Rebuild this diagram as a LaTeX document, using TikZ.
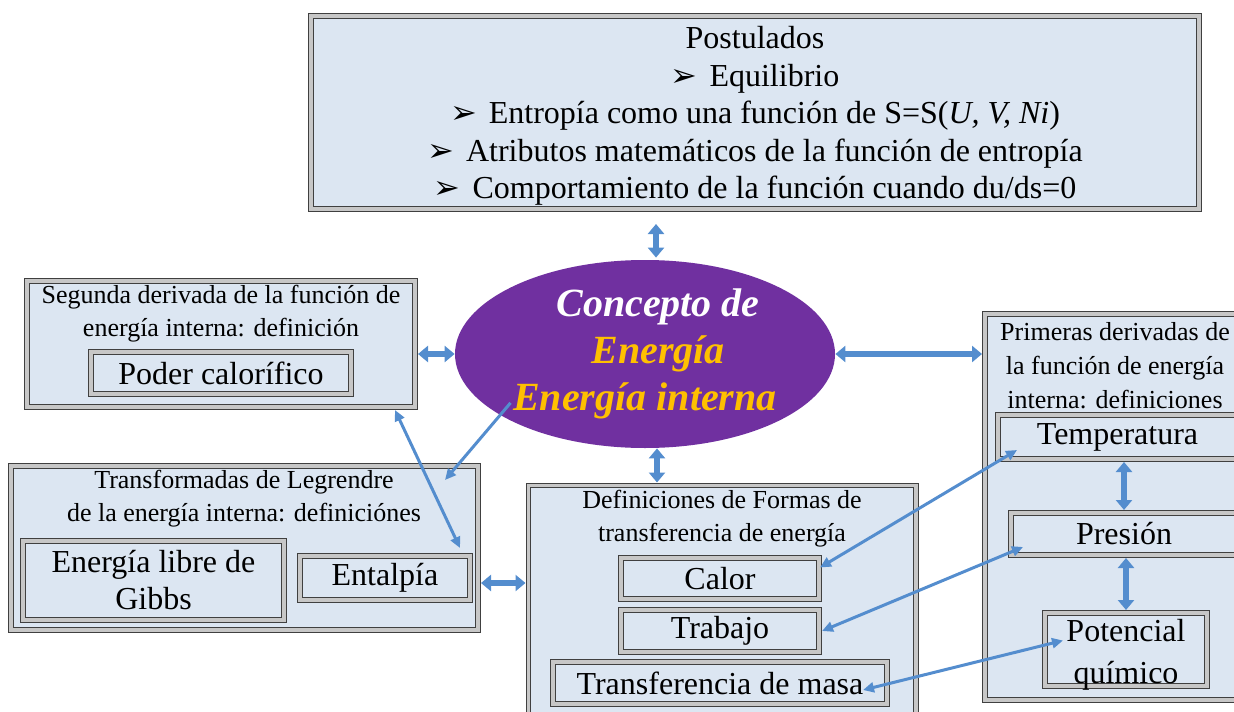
\documentclass[tikz,border=0pt]{standalone}
\usepackage{fontspec}
\setmainfont{Liberation Serif}
\newfontfamily\symfont{DejaVu Sans}
\usetikzlibrary{arrows.meta,positioning,shapes.geometric}
\definecolor{boxblue}{RGB}{220,230,242}
\definecolor{arrowblue}{RGB}{84,141,206}
\definecolor{ovalpurple}{RGB}{112,48,160}
\definecolor{gold}{RGB}{255,192,0}
\newcommand{\postbullet}{{\symfont\fontsize{16}{16}\selectfont ➢}\hspace{6pt}}

\begin{document}
\begin{tikzpicture}
[x=0.5pt,y=-0.5pt,
outerbox/.style={draw=black!75,double=black!22,double distance=1.8pt,line width=0.5pt,fill=boxblue,inner sep=0pt,outer sep=1.4pt},
innerbox/.style={outerbox,align=center,font=\fontsize{16}{18.5}\selectfont},
boxtitle/.style={align=center,font=\fontsize{13}{16.5}\selectfont},
blockarrow/.style={{Triangle[width=8pt,length=5pt]}-{Triangle[width=8pt,length=5pt]},arrowblue,line width=3.3pt},
thinarrow/.style={-{Triangle[width=5pt,length=5.5pt]},arrowblue,line width=1.5pt},
thinboth/.style={thinarrow,{Triangle[width=5pt,length=5.5pt]}-{Triangle[width=5pt,length=5.5pt]}}]

\useasboundingbox (0,0) rectangle (1234,711);

% Postulados
\node[outerbox,minimum width=444.2pt,minimum height=96.7pt] (post) at (755,112.5) {};
\node[align=center,font=\fontsize{16}{18.8}\selectfont] (posttext) at (755,116)
{Postulados\\
\postbullet Equilibrio\\
\postbullet Entropía como una función de S=S(\textit{U, V, Ni})\\
\postbullet Atributos matemáticos de la función de entropía\\
\postbullet Comportamiento de la función cuando du/ds=0};

% Concepto
\node[ellipse,fill=ovalpurple,minimum width=190pt,minimum height=94pt] (ctr) at (645,354) {};
\node[align=center,font=\fontsize{20}{23.5}\selectfont\bfseries\itshape] (ctrtext) at (ctr)
{\hspace*{13pt}\textcolor{white}{Concepto de}\\ \hspace*{13pt}\textcolor{gold}{Energía}\\ \textcolor{gold}{Energía interna}};

% Segunda derivada
\node[outerbox,minimum width=194.2pt,minimum height=63.2pt] (seg) at (221,344) {};
\node[boxtitle] (segtitle) at (221,314) {Segunda derivada de la función de\\energía interna: definición};
\node[innerbox,minimum width=130.2pt,minimum height=21.2pt] (poder) at (221,373) {Poder calorífico};

% Legendre
\node[outerbox,minimum width=233.7pt,minimum height=82.2pt] (leg) at (244.5,548) {};
\node[boxtitle] (legtitle) at (244,499) {Transformadas de Legrendre\\de la energía interna: definiciónes};
\node[innerbox,minimum width=130.7pt,minimum height=39.7pt] (gibbs) at (153.5,580.5) {Energía libre de\\Gibbs};
\node[innerbox,minimum width=85.2pt,minimum height=22.2pt] (ental) at (385,578) {Entalpía};

% Definiciones
\node[outerbox,minimum width=193.7pt,minimum height=126.2pt] (defs) at (722,611.5) {};
\node[boxtitle] (defstitle) at (722,519) {Definiciones de Formas de\\transferencia de energía};
\node[innerbox,minimum width=99.2pt,minimum height=20.7pt] (calor) at (720,578.5) {Calor};
\node[innerbox,minimum width=99.2pt,minimum height=21.2pt] (trab) at (720,631) {Trabajo};
\node[innerbox,minimum width=167.2pt,minimum height=21.2pt] (masa) at (720,683) {Transferencia de masa};

% Primeras derivadas
\node[outerbox,minimum width=131.2pt,minimum height=193.2pt] (prim) at (1116,507) {};
\node[boxtitle,font=\fontsize{13}{17}\selectfont] (primtitle) at (1115,366) {Primeras derivadas de\\la función de energía\\interna: definiciones};
\node[innerbox,minimum width=119.7pt,minimum height=22.2pt] (temp) at (1117.5,437) {Temperatura};
\node[innerbox,minimum width=113.2pt,minimum height=21.2pt] (pres) at (1124,534) {Presión};
\node[outerbox,minimum width=81.2pt,minimum height=36.7pt] (pot) at (1126,649.5) {};
\node[align=center,font=\fontsize{16}{21}\selectfont] (pottext) at (1126,655) {Potencial\\químico};

% block arrows
\draw[blockarrow,shorten <=6pt,shorten >=1pt] ([xshift=5.5pt]ctr.north |- post.south) -- ([xshift=5.5pt]ctr.north);
\draw[blockarrow] (seg.east |- ctr.west) -- (ctr.west);
\draw[blockarrow] (ctr.east) -- (ctr.east -| prim.west);
\draw[blockarrow] ([xshift=6pt]ctr.south) -- ([xshift=6pt]ctr.south |- defs.north);
\draw[blockarrow] ([yshift=-2.5pt]leg.east |- ental.east) -- ([yshift=-2.5pt]defs.west |- ental.east);
\draw[blockarrow] (pres.north |- temp.south) -- (pres.north);
\draw[blockarrow] (pot.north |- pres.south) -- (pot.north);

% thin arrows
\draw[thinboth] ([xshift=-11.5pt]seg.south east) -- ([shift={(-6.5pt,2.5pt)}]ental.north east);
\draw[thinarrow] ([shift={(9.5pt,3.5pt)}]ctr.200) -- ([shift={(-18pt,-8.5pt)}]leg.north east);
\draw[thinboth] ([shift={(-1pt,5.5pt)}]calor.east) -- ([shift={(11pt,-6.5pt)}]temp.west);
\draw[thinboth] (trab.east) -- ([shift={(7.5pt,-6.5pt)}]pres.west);
\draw[thinboth] ([shift={(-13.5pt,-3.5pt)}]masa.east) -- ([shift={(10.5pt,4.5pt)}]pot.west);

\end{tikzpicture}
\end{document}
